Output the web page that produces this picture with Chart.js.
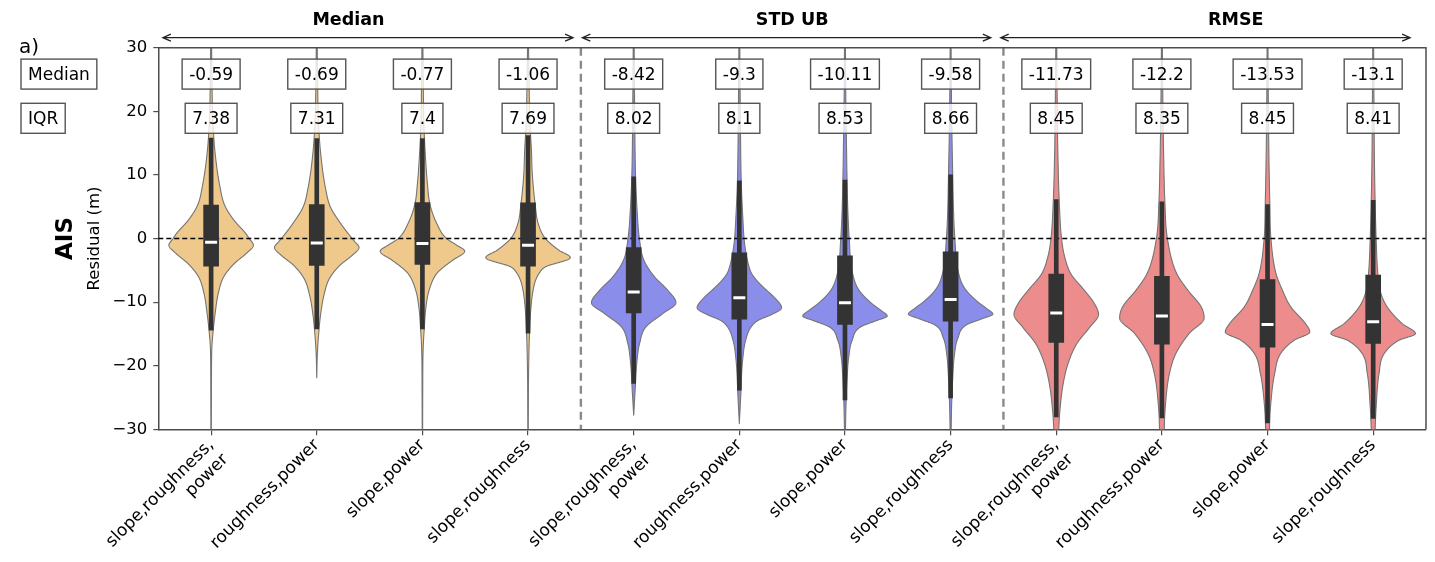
<!DOCTYPE html>
<html>
<head>
<meta charset="utf-8">
<script src="https://cdn.jsdelivr.net/npm/chart.js@4/dist/chart.umd.min.js"></script>
<style>
  html, body { margin: 0; padding: 0; background: #ffffff; }
  #wrap { width: 1435px; height: 562px; }
</style>
</head>
<body>
<div id="wrap"><canvas id="chart" width="1435" height="562"></canvas></div>
<script>
// ---- data -------------------------------------------------------------
const categories = [
  ['slope,roughness,', 'power'], 'roughness,power', 'slope,power', 'slope,roughness',
  ['slope,roughness,', 'power'], 'roughness,power', 'slope,power', 'slope,roughness',
  ['slope,roughness,', 'power'], 'roughness,power', 'slope,power', 'slope,roughness'
];
const groupTitles = ['Median', 'STD UB', 'RMSE'];
const rowLabels = ['Median', 'IQR'];
const panelLabel = 'a)';
const regionLabel = 'AIS';
const yAxisLabel = 'Residual (m)';
const yTicks = [-30, -20, -10, 0, 10, 20, 30];

const medianValues = [-0.59, -0.69, -0.77, -1.06, -8.42, -9.3, -10.11, -9.58, -11.73, -12.2, -13.53, -13.1];
const iqrValues    = [7.38, 7.31, 7.4, 7.69, 8.02, 8.1, 8.53, 8.66, 8.45, 8.35, 8.45, 8.41];

const boxLow      = [-4.36, -4.25, -4.09, -4.36, -11.7, -12.7, -13.5, -13.0, -16.35, -16.6, -17.1, -16.5];
const boxHigh     = [5.24, 5.35, 5.66, 5.6, -1.42, -2.26, -2.73, -2.1, -5.6, -5.93, -6.45, -5.77];
const whiskerLow  = [-14.4, -14.2, -14.2, -14.9, -22.8, -23.85, -25.4, -25.05, -28.05, -28.2, -29.0, -28.3];
const whiskerHigh = [15.8, 15.7, 15.7, 16.2, 9.7, 9.06, 9.17, 10.0, 6.1, 5.76, 5.35, 6.0];

// kernel density of each violin: [residual (m), density relative to its peak]
const densityMedian = [
  [[31,0.01],[25,0.02],[18.6,0.04],[13.4,0.095],[8.1,0.21],[5.24,0.32],[2.88,0.54],[0.79,0.82],[0,0.9],[-1.05,1.0],[-2.36,0.83],[-3.93,0.55],[-6.0,0.30],[-8.6,0.17],[-11.8,0.095],[-14.4,0.05],[-17.6,0.015],[-24,0.008],[-31,0.005]],
  [[31,0.01],[25,0.02],[18.5,0.04],[13.2,0.095],[7.8,0.21],[5.0,0.32],[2.6,0.54],[0.3,0.8],[-0.5,0.9],[-1.4,1.0],[-2.7,0.83],[-4.2,0.55],[-6.3,0.30],[-8.9,0.17],[-12.0,0.09],[-14.6,0.05],[-18,0.015],[-21.9,0.0]],
  [[31,0.01],[25,0.02],[18,0.035],[13,0.07],[8.5,0.12],[5.35,0.18],[2.36,0.34],[0,0.57],[-1.0,0.8],[-2.0,1.0],[-3.4,0.72],[-4.5,0.5],[-5.5,0.34],[-8.1,0.16],[-11,0.08],[-14,0.045],[-18,0.015],[-24,0.008],[-31,0.005]],
  [[31,0.01],[24,0.025],[18,0.045],[13.9,0.08],[10.2,0.1],[5.3,0.17],[2.36,0.24],[0,0.41],[-1.84,0.73],[-3.0,1.0],[-4.46,0.41],[-5.5,0.26],[-6.55,0.18],[-8.1,0.12],[-10.75,0.07],[-14,0.04],[-20,0.015],[-31,0.005]]
];
const densityStdUb = [
  [[31,0.01],[22,0.02],[15,0.03],[9.7,0.045],[4.45,0.08],[0,0.135],[-3.4,0.24],[-6.0,0.49],[-8.1,0.8],[-10.1,1.0],[-11.8,0.69],[-13.9,0.29],[-16.5,0.14],[-19.1,0.08],[-24.4,0.03],[-27.8,0.0]],
  [[31,0.01],[22,0.02],[15,0.03],[9.0,0.045],[3.6,0.08],[-0.8,0.125],[-4.2,0.22],[-5.5,0.29],[-6.8,0.44],[-8.1,0.64],[-9.2,0.82],[-10.9,1.0],[-12.0,0.75],[-12.85,0.45],[-13.9,0.28],[-16,0.15],[-19,0.08],[-25.2,0.03],[-29.1,0.0]],
  [[31,0.01],[22,0.02],[15,0.035],[9,0.05],[4,0.07],[0,0.1],[-5.5,0.18],[-8.1,0.33],[-10.2,0.63],[-11.3,0.85],[-12.2,1.0],[-12.9,0.75],[-13.9,0.37],[-16,0.17],[-18.6,0.09],[-22,0.05],[-26,0.025],[-31,0.01]],
  [[31,0.01],[22,0.02],[15,0.035],[10,0.05],[4,0.07],[0,0.1],[-5.2,0.18],[-7.8,0.33],[-9.9,0.63],[-11.0,0.85],[-11.9,1.0],[-12.6,0.75],[-13.6,0.37],[-15.7,0.17],[-18.3,0.09],[-22,0.05],[-26,0.025],[-31,0.01]]
];
const densityRmse = [
  [[31,0.01],[20,0.025],[12.8,0.04],[6.0,0.07],[0,0.125],[-2.9,0.2],[-5.6,0.35],[-8.1,0.66],[-10.2,0.9],[-11.95,1.0],[-13.9,0.8],[-16.5,0.49],[-19.65,0.28],[-22.8,0.165],[-27,0.087],[-31,0.05]],
  [[31,0.01],[20,0.025],[12,0.045],[5.8,0.07],[0,0.13],[-5.5,0.35],[-8.1,0.61],[-10.75,0.93],[-12.5,1.0],[-14.9,0.65],[-18.1,0.33],[-21.2,0.18],[-26.5,0.08],[-31,0.05]],
  [[31,0.01],[20,0.02],[12,0.035],[5.35,0.055],[0,0.08],[-5.5,0.2],[-8.1,0.35],[-10.75,0.55],[-13.4,0.9],[-14.7,1.0],[-16,0.63],[-18.1,0.31],[-21.2,0.17],[-26.5,0.07],[-31,0.04]],
  [[31,0.01],[20,0.02],[12,0.03],[6,0.045],[0,0.07],[-5.5,0.11],[-8.1,0.16],[-10.75,0.33],[-13.4,0.69],[-14.95,1.0],[-16,0.61],[-18.1,0.26],[-21.2,0.14],[-26.5,0.07],[-31,0.04]]
];

// ---- styling ----------------------------------------------------------
const FONT = 'DejaVu Sans';
const groupFill = ['#efc98b', '#8a8dea', '#ec8c8c'];
const violinDensity = densityMedian.concat(densityStdUb, densityRmse);
const violinFill = categories.map((_, i) => groupFill[Math.floor(i / 4)]);

// Monotone cubic (Fritsch-Carlson) curve through the density knots
function monotoneCurve(knots) {
  const pts = knots.slice().sort((a, b) => a[0] - b[0]);
  const xs = pts.map(p => p[0]), ys = pts.map(p => p[1]);
  const n = xs.length, d = [], m = new Array(n);
  for (let k = 0; k < n - 1; k++) d.push((ys[k + 1] - ys[k]) / (xs[k + 1] - xs[k]));
  m[0] = d[0]; m[n - 1] = d[n - 2];
  for (let k = 1; k < n - 1; k++) m[k] = (d[k - 1] * d[k] <= 0) ? 0 : (d[k - 1] + d[k]) / 2;
  for (let k = 0; k < n - 1; k++) {
    if (d[k] === 0) { m[k] = 0; m[k + 1] = 0; continue; }
    const a = m[k] / d[k], b = m[k + 1] / d[k], s = a * a + b * b;
    if (s > 9) { const t = 3 / Math.sqrt(s); m[k] = t * a * d[k]; m[k + 1] = t * b * d[k]; }
  }
  return {
    lo: xs[0], hi: xs[n - 1],
    at(v) {
      let k = 0;
      while (k < n - 2 && v > xs[k + 1]) k++;
      const h = xs[k + 1] - xs[k], t = (v - xs[k]) / h;
      const t2 = t * t, t3 = t2 * t;
      return (2 * t3 - 3 * t2 + 1) * ys[k] + (t3 - 2 * t2 + t) * h * m[k] +
             (-2 * t3 + 3 * t2) * ys[k + 1] + (t3 - t2) * h * m[k + 1];
    }
  };
}
const violinCurves = violinDensity.map(monotoneCurve);

function labelBox(ctx, text, x, cy, align) {
  ctx.font = `17px "${FONT}"`;
  const w = ctx.measureText(text).width + 14, h = 30;
  const left = align === 'left' ? x : x - w / 2;
  ctx.fillStyle = 'rgba(255,255,255,0.8)';
  ctx.fillRect(left, cy - h / 2, w, h);
  ctx.strokeStyle = '#555555';
  ctx.lineWidth = 1.4;
  ctx.strokeRect(left, cy - h / 2, w, h);
  ctx.fillStyle = '#000000';
  ctx.textAlign = 'center';
  ctx.textBaseline = 'middle';
  ctx.fillText(text, left + w / 2, cy + 1);
}

function arrow(ctx, x1, x2, y) {
  ctx.strokeStyle = '#222222';
  ctx.lineWidth = 1.3;
  ctx.beginPath();
  ctx.moveTo(x1, y); ctx.lineTo(x2, y);
  ctx.moveTo(x1 + 8, y - 3.5); ctx.lineTo(x1, y); ctx.lineTo(x1 + 8, y + 3.5);
  ctx.moveTo(x2 - 8, y - 3.5); ctx.lineTo(x2, y); ctx.lineTo(x2 - 8, y + 3.5);
  ctx.stroke();
}

const violinPlugin = {
  id: 'violins',
  beforeDatasetsDraw(chart) {
    const { ctx, chartArea: a, scales: { x, y } } = chart;
    const half = 0.4 * (x.getPixelForValue(1) - x.getPixelForValue(0));
    ctx.save();
    ctx.beginPath();
    ctx.rect(a.left, a.top, a.right - a.left, a.bottom - a.top);
    ctx.clip();
    violinCurves.forEach((curve, i) => {
      const cx = x.getPixelForValue(i);
      const right = [], left = [];
      for (let v = curve.hi; v >= curve.lo - 1e-9; v -= 0.05) {
        const w = Math.max(0, curve.at(v)) * half;
        const py = y.getPixelForValue(v);
        right.push([cx + w, py]);
        left.push([cx - w, py]);
      }
      ctx.beginPath();
      right.forEach((p, k) => k ? ctx.lineTo(p[0], p[1]) : ctx.moveTo(p[0], p[1]));
      for (let k = left.length - 1; k >= 0; k--) ctx.lineTo(left[k][0], left[k][1]);
      ctx.closePath();
      ctx.fillStyle = violinFill[i];
      ctx.fill();
      ctx.strokeStyle = '#747474';
      ctx.lineWidth = 1.1;
      ctx.lineJoin = 'round';
      ctx.stroke();
    });
    // zero reference line
    const y0 = y.getPixelForValue(0);
    ctx.setLineDash([5, 3]);
    ctx.strokeStyle = '#000000';
    ctx.lineWidth = 1.6;
    ctx.beginPath(); ctx.moveTo(a.left, y0); ctx.lineTo(a.right, y0); ctx.stroke();
    // group separators
    ctx.setLineDash([8, 5]);
    ctx.strokeStyle = '#8a8a8a';
    ctx.lineWidth = 2.4;
    [4, 8].forEach(k => {
      const sx = (x.getPixelForValue(k - 1) + x.getPixelForValue(k)) / 2;
      ctx.beginPath(); ctx.moveTo(sx, a.top); ctx.lineTo(sx, a.bottom); ctx.stroke();
    });
    ctx.restore();
  },
  afterDatasetsDraw(chart) {
    const { ctx, chartArea: a, scales: { x, y } } = chart;
    ctx.save();
    const rowY = [y.getPixelForValue(25.85), y.getPixelForValue(18.9)];
    categories.forEach((_, i) => {
      const cx = x.getPixelForValue(i);
      labelBox(ctx, String(medianValues[i]), cx, rowY[0], 'center');
      labelBox(ctx, String(iqrValues[i]), cx, rowY[1], 'center');
    });
    labelBox(ctx, rowLabels[0], 21, rowY[0], 'left');
    labelBox(ctx, rowLabels[1], 21, rowY[1], 'left');
    // frame: top and right spines
    ctx.strokeStyle = '#4d4d4d';
    ctx.lineWidth = 1.5;
    ctx.beginPath();
    ctx.moveTo(a.left, a.top); ctx.lineTo(a.right, a.top); ctx.lineTo(a.right, a.bottom);
    ctx.stroke();
    ctx.restore();
  },
  afterDraw(chart) {
    const { ctx, chartArea: a, scales: { y } } = chart;
    const W = a.right - a.left;
    ctx.save();
    // group spans and titles
    const spans = [[0.0036, 0.3272], [0.3345, 0.6567], [0.6645, 0.9875]];
    const titleAt = [0.15, 0.5, 0.85];
    spans.forEach((s, k) => {
      arrow(ctx, a.left + s[0] * W, a.left + s[1] * W, a.top - 10);
      ctx.font = `bold 17.5px "${FONT}"`;
      ctx.fillStyle = '#000000';
      ctx.textAlign = 'center';
      ctx.textBaseline = 'alphabetic';
      ctx.fillText(groupTitles[k], a.left + titleAt[k] * W, 25);
    });
    // panel letter
    ctx.font = `20px "${FONT}"`;
    ctx.textAlign = 'left';
    ctx.fillText(panelLabel, 19, 53);
    // rotated axis labels
    const yc = (y.getPixelForValue(-30) + y.getPixelForValue(30)) / 2;
    ctx.translate(71.5, yc);
    ctx.rotate(-Math.PI / 2);
    ctx.textAlign = 'center';
    ctx.font = `bold 23px "${FONT}"`;
    ctx.fillText(regionLabel, 0, 0);
    ctx.setTransform(1, 0, 0, 1, 0, 0);
    ctx.translate(99, yc);
    ctx.rotate(-Math.PI / 2);
    ctx.font = `16.5px "${FONT}"`;
    ctx.fillText(yAxisLabel, 0, 0);
    ctx.restore();
  }
};

new Chart(document.getElementById('chart'), {
  type: 'bar',
  data: {
    labels: categories,
    datasets: [
      {
        label: 'median',
        type: 'scatter',
        data: medianValues.map((v, i) => ({ x: i, y: v })),
        pointStyle: 'line',
        radius: 6,
        borderWidth: 3,
        borderColor: '#ffffff',
        backgroundColor: '#ffffff',
        order: 0
      },
      {
        label: 'box',
        data: boxLow.map((v, i) => [v, boxHigh[i]]),
        backgroundColor: '#333333',
        barThickness: 15,
        grouped: false,
        order: 1
      },
      {
        label: 'whisker',
        data: whiskerLow.map((v, i) => [v, whiskerHigh[i]]),
        backgroundColor: '#333333',
        barThickness: 4,
        grouped: false,
        order: 2
      }
    ]
  },
  options: {
    responsive: false,
    animation: false,
    devicePixelRatio: 1,
    events: [],
    layout: { padding: { left: 0, top: 47.7, right: 8.3, bottom: 0 } },
    plugins: { legend: { display: false }, tooltip: { enabled: false } },
    scales: {
      x: {
        type: 'category',
        offset: true,
        grid: { offset: false, drawOnChartArea: false, tickLength: 6, color: '#4d4d4d', lineWidth: 1.2 },
        border: { color: '#4d4d4d', width: 1.5 },
        ticks: {
          autoSkip: false, maxRotation: 45, minRotation: 45, padding: 0,
          color: '#000000', font: { family: FONT, size: 17 }
        },
        afterFit(scale) { scale.height = 132.7; }
      },
      y: {
        min: -30, max: 30,
        afterBuildTicks(scale) { scale.ticks = yTicks.map(v => ({ value: v })); },
        grid: { drawOnChartArea: false, tickLength: 5, color: '#4d4d4d', lineWidth: 1.2 },
        border: { color: '#4d4d4d', width: 1.5 },
        ticks: {
          padding: 6, color: '#000000', font: { family: FONT, size: 16.5 },
          callback: v => (v < 0 ? '\u2212' + Math.abs(v) : String(v))
        },
        afterFit(scale) { scale.width = 158.3; }
      }
    }
  },
  plugins: [violinPlugin]
});
</script>
</body>
</html>
